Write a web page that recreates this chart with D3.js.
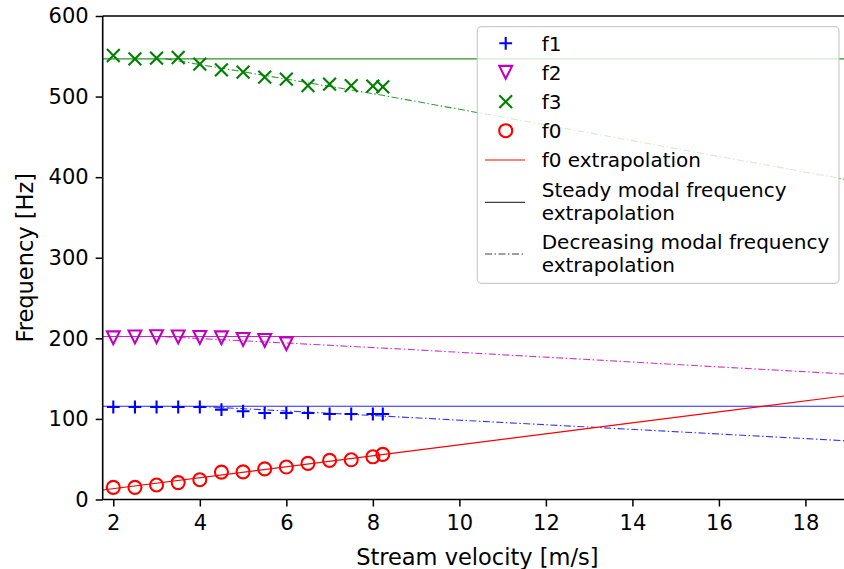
<!DOCTYPE html>
<html><head><meta charset="utf-8">
<script src="https://cdn.jsdelivr.net/npm/d3@7"></script>
<style>
html,body{margin:0;padding:0;background:#fff;}
svg{display:block;font-family:"DejaVu Sans",sans-serif;}
</style></head>
<body><svg id="c" width="844" height="569"></svg>
<script>
// ---- data ----
const velocity = [2, 2.5, 3, 3.5, 4, 4.5, 5, 5.5, 6, 6.5, 7, 7.5, 8, 8.23];
const f1 = [114.8, 114.8, 114.8, 114.8, 114.8, 111.5, 109.5, 107.4, 107.4, 107.4, 106.1, 106.1, 106.1, 106.1];
const f2 = [200.7, 201.7, 202.1, 201.7, 201.1, 200.7, 198.6, 197.4, 193.3];
const f3 = [551, 546.9, 547.7, 548.5, 540.3, 533.2, 530.4, 524.2, 521.6, 513.7, 515.5, 513.7, 513, 512.1];
const f0 = [15, 15, 18, 21, 24.5, 34, 34.3, 38, 40.3, 44.8, 48.5, 49.3, 53, 56];
const f0Extrap = [[1.755, 11.8], [19.0, 129.2]];
const steady = {f1: 115.7, f2: 202.2, f3: 546.8};
const steadyRange = [1.755, 19.0];
const f1Dec = [[4.0, 115.5], [8.63, 102.4], [19.0, 72.7]];
const f2Dec = [[3.2, 202.0], [8.63, 186.8], [19.0, 155.5]];
const f3Dec = [[3.2, 547.0], [8.16, 502.2], [19.0, 396.5]];
const xTicks = [2, 4, 6, 8, 10, 12, 14, 16, 18];
const yTicks = [0, 100, 200, 300, 400, 500, 600];
const legendLabels = [["f1"], ["f2"], ["f3"], ["f0"], ["f0 extrapolation"],
  ["Steady modal frequency", "extrapolation"], ["Decreasing modal frequency", "extrapolation"]];

// ---- layout ----
const C = {b: "#0000ff", m: "#bf00bf", g: "#008000", r: "#ff0000"};
const svg = d3.select("#c");
const L = 102.7, R = 850, T = 16, B = 499.5;
const x = d3.scaleLinear().domain([1.755, 19.03]).range([L, R]);
const y = d3.scaleLinear().domain([0, 600]).range([B, T]);
const line = d3.line().x(d => x(d[0])).y(d => y(d[1]));
const DASHDOT = "7,2.5,1.5,2.5";

const plot = svg.append("g");
plot.append("defs").append("clipPath").attr("id", "clip")
  .append("rect").attr("x", L).attr("y", T).attr("width", R - L).attr("height", B - T);
const g = plot.append("g").attr("clip-path", "url(#clip)");

function steadyLine(v, col) {
  g.append("path").attr("d", line([[steadyRange[0], v], [steadyRange[1], v]]))
    .attr("fill", "none").attr("stroke", col).attr("stroke-width", 1.1).attr("stroke-opacity", 0.85);
}
function decLine(pts, col) {
  g.append("path").attr("d", line(pts)).attr("fill", "none").attr("stroke", col)
    .attr("stroke-width", 1.1).attr("stroke-opacity", 0.8).attr("stroke-dasharray", DASHDOT);
}
steadyLine(steady.f1, C.b); decLine(f1Dec, C.b);
steadyLine(steady.f2, C.m); decLine(f2Dec, C.m);
steadyLine(steady.f3, C.g); decLine(f3Dec, C.g);
g.append("path").attr("d", line(f0Extrap)).attr("fill", "none").attr("stroke", C.r).attr("stroke-width", 1.2);

function marker(sel, type, col) {
  const s = 6.4;
  if (type === "plus") sel.append("path").attr("d", `M${-s},0H${s}M0,${-s}V${s}`);
  else if (type === "x") sel.append("path").attr("d", `M${-s},${-s}L${s},${s}M${-s},${s}L${s},${-s}`);
  else if (type === "v") sel.append("path").attr("d", `M0,${s}L${-s},${-s}L${s},${-s}Z`);
  else if (type === "o") sel.append("circle").attr("r", 6.5);
  sel.selectAll("*").attr("fill", "none").attr("stroke", col).attr("stroke-width", 2.1);
}
function series(vals, type, col) {
  vals.forEach((v, i) => {
    const mg = g.append("g").attr("transform", `translate(${x(velocity[i])},${y(v)})`);
    marker(mg, type, col);
  });
}
series(f1, "plus", C.b);
series(f2, "v", C.m);
series(f3, "x", C.g);
series(f0, "o", C.r);

const ax = svg.append("g").attr("transform", `translate(0,${B})`)
  .call(d3.axisBottom(x).tickValues(xTicks).tickSize(7).tickPadding(8).tickFormat(d3.format("d")));
const ay = svg.append("g").attr("transform", `translate(${L},0)`)
  .call(d3.axisLeft(y).tickValues(yTicks).tickSize(7).tickPadding(7).tickFormat(d3.format("d")));
[ax, ay].forEach(a => {
  a.select(".domain").remove();
  a.selectAll(".tick line").attr("stroke", "#000").attr("stroke-width", 1.5);
  a.selectAll(".tick text").attr("fill", "#000").style("font-size", "21px").style("font-family", "DejaVu Sans");
});
ax.selectAll(".tick text").attr("dy", "0.75em");
svg.append("path").attr("d", `M${L},${T}V${B}H${R}M${L},${T}H${R}`)
  .attr("fill", "none").attr("stroke", "#000").attr("stroke-width", 1.6);

svg.append("text").attr("x", (L + 844) / 2 + 4).attr("y", 565).attr("text-anchor", "middle")
  .style("font-size", "22.5px").text("Stream velocity [m/s]");
svg.append("text").attr("transform", `translate(33,${(T + B) / 2}) rotate(-90)`).attr("text-anchor", "middle")
  .style("font-size", "22.5px").text("Frequency [Hz]");

const lg = svg.append("g");
lg.append("rect").attr("x", 477.3).attr("y", 26.7).attr("width", 361.7).attr("height", 256.6)
  .attr("rx", 4).attr("fill", "#fff").attr("fill-opacity", 0.8).attr("stroke", "#cccccc").attr("stroke-width", 1.2);
const rowY = [43.3, 72.3, 101.7, 130.7, 160, 190, 241.7];
const handleY = [43.3, 72.3, 101.7, 130.7, 160, 202.3, 254];
const handles = [
  {t: "m", type: "plus", col: C.b}, {t: "m", type: "v", col: C.m}, {t: "m", type: "x", col: C.g},
  {t: "m", type: "o", col: C.r}, {t: "l", col: C.r, op: 1}, {t: "l", col: "#000", op: 0.75},
  {t: "l", col: "#000", op: 0.75, dash: DASHDOT}];
legendLabels.forEach((lab, i) => {
  const h = handles[i];
  if (h.t === "m") {
    const mg = lg.append("g").attr("transform", `translate(505.7,${handleY[i]})`);
    marker(mg, h.type, h.col);
  } else {
    lg.append("line").attr("x1", 485).attr("x2", 525).attr("y1", handleY[i]).attr("y2", handleY[i])
      .attr("stroke", h.col).attr("stroke-opacity", h.op).attr("stroke-width", 1.2)
      .attr("stroke-dasharray", h.dash || null);
  }
  lab.forEach((t, j) => {
    lg.append("text").attr("x", 541.7).attr("y", rowY[i] + j * 22.6).attr("dy", "0.36em")
      .style("font-size", "20px").text(t);
  });
});
</script></body></html>
